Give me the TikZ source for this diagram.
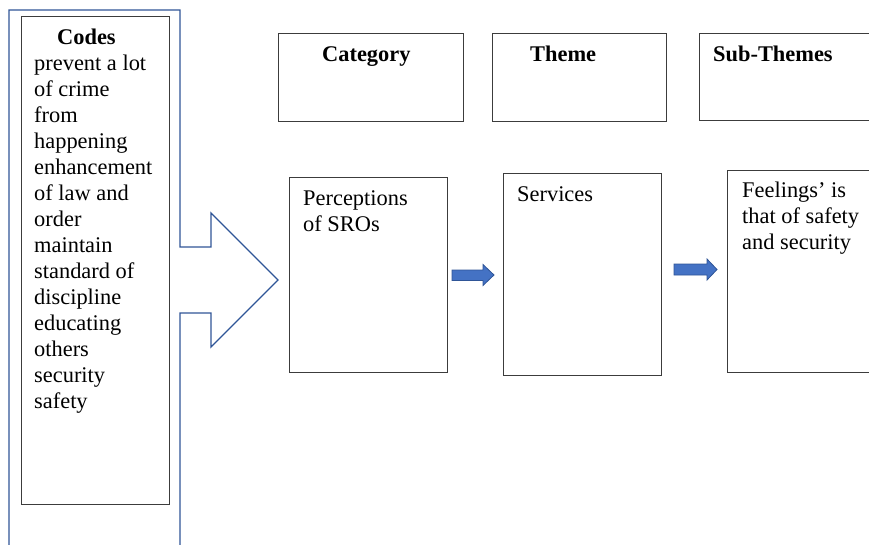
\documentclass[tikz,border=0pt]{standalone}
\usepackage{fontspec}
\setmainfont{Liberation Serif}

\definecolor{boxline}{HTML}{3C3C3C}
\definecolor{arrowline}{HTML}{2F5597}
\definecolor{arrowfill}{HTML}{4472C4}

\tikzset{
  box/.style={draw=boxline, line width=1.1pt, rectangle, inner sep=0pt, anchor=north west},
  txt/.style={anchor=base west, inner sep=0pt, font=\fontsize{22.4}{26}\selectfont},
  hdr/.style={txt, font=\fontsize{22.4}{26}\selectfont\bfseries},
  flow/.style={draw=arrowline, fill=arrowfill, line width=0.8pt, line join=miter},
  bigarrow/.style={draw=arrowline, line width=1.4pt, line join=miter}
}

\begin{document}
\begin{tikzpicture}[x=1pt, y=-1pt]
\useasboundingbox (0,0) rectangle (869,545);
\clip (0,0) rectangle (869,545);

% outer arrow framing the list of codes
\draw[bigarrow] (9,550) -- (9,10) -- (180,10) -- (180,247) -- (211,247) -- (211,213)
  -- (278,280) -- (211,347) -- (211,313) -- (180,313) -- (180,550);

% box holding the codes
\node[box, minimum width=148pt, minimum height=488pt] (codes) at (21,16) {};
\node[txt] (codestext) at (34,45) {\parbox[t]{140pt}{\raggedright
  \hspace*{23pt}\textbf{Codes}\\
  prevent a lot\\ of crime\\ from\\ happening\\ enhancement\\ of law and\\ order\\
  maintain\\ standard of\\ discipline\\ educating\\ others\\ security\\ safety}};

% column headings
\node[box, minimum width=185pt, minimum height=88pt] (cat) at (278,33) {};
\node[box, minimum width=174pt, minimum height=88pt] (thm) at (492,33) {};
\node[box, minimum width=190pt, minimum height=87pt] (sub) at (699,33) {};
\node[hdr] (cattext) at (322,62) {Category};
\node[hdr] (thmtext) at (530,62) {Theme};
\node[hdr] (subtext) at (713,62) {Sub-Themes};

% content boxes
\node[box, minimum width=158pt, minimum height=195pt] (perc) at (289,177) {};
\node[box, minimum width=158pt, minimum height=202pt] (serv) at (503,173) {};
\node[box, minimum width=170pt, minimum height=202pt] (feel) at (727,170) {};

\node[txt] (perctext) at (303,206) {\parbox[t]{140pt}{\raggedright Perceptions\\ of SROs}};
\node[txt] (servtext) at (517,202) {Services};
\node[txt] (feeltext) at (742,198) {\parbox[t]{140pt}{\raggedright Feelings’ is\\ that of safety\\ and security}};

% block arrows between the boxes (tail centre, then outline)
\coordinate (a1) at (452,275.5);
\coordinate (a2) at (674,269.5);
\draw[flow] (a1) ++(0,-5.5) -- ++(31,0) -- ++(0,-5.5) -- ++(11,10.5)
  -- ++(-11,10.5) -- ++(0,-5) -- ++(-31,0) -- cycle;
\draw[flow] (a2) ++(0,-5.5) -- ++(33,0) -- ++(0,-5) -- ++(10,10.5)
  -- ++(-10,10.5) -- ++(0,-5) -- ++(-33,0) -- cycle;
\end{tikzpicture}
\end{document}
